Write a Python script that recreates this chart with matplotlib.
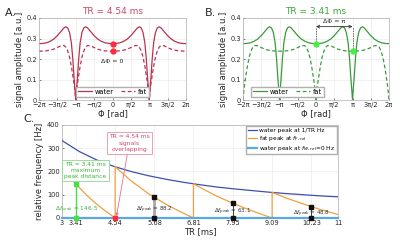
import numpy as np
import matplotlib
matplotlib.use("Agg")
import matplotlib.pyplot as plt

# ---------------- data ----------------
# bSSFP profile samples: distance from the dip (in units of pi) and amplitudes
dip_dist = [0.0, 0.02, 0.05, 0.08, 0.12, 0.17, 0.22, 0.27, 0.32, 0.40, 0.50, 0.60, 0.70, 0.80, 0.90, 1.0]
water_amp = [0.0, 0.05, 0.12, 0.20, 0.28, 0.33, 0.352, 0.357, 0.352, 0.335, 0.314, 0.297, 0.286, 0.279, 0.276, 0.275]
fat_amp = [0.0, 0.04, 0.085, 0.12, 0.165, 0.21, 0.24, 0.258, 0.266, 0.265, 0.256, 0.248, 0.243, 0.240, 0.239, 0.238]

phi_ticks = [-2, -1.5, -1, -0.5, 0, 0.5, 1, 1.5, 2]
phi_ticklabels = ['\u22122\u03c0', '\u22123\u03c0/2', '\u2212\u03c0', '\u2212\u03c0/2', '0',
                  '\u03c0/2', '\u03c0', '3\u03c0/2', '2\u03c0']

# panel C
tr_water = [3.0, 3.5, 4.0, 4.5, 5.0, 5.5, 6.0, 6.5, 7.0, 7.5, 8.0, 8.5, 9.0, 9.5, 10.0, 10.5, 11.0]
f_water = [333, 286, 250, 222, 200, 182, 167, 154, 143, 133, 125, 118, 111, 105, 100, 95, 91]

tr_fat = [3.0, 3.25, 3.5, 3.75, 4.0, 4.25, 4.54,
          4.54, 5.0, 5.5, 6.0, 6.5, 6.81,
          6.81, 7.25, 7.5, 8.0, 8.5, 9.09,
          9.09, 9.5, 10.0, 10.5, 11.0]
f_fat = [227, 175, 131, 93, 60, 31, 0,
         221, 160, 105, 60, 22, 0,
         147, 112, 93, 60, 31, 0,
         110, 86, 60, 36, 15]

tr_ticks = [3, 3.41, 4.54, 5.68, 6.81, 7.95, 9.09, 10.23, 11]
tr_ticklabels = ['3', '3.41', '4.54', '5.68', '6.81', '7.95', '9.09', '10.23', '11']
peak_tr = [3.41, 5.68, 7.95, 10.23]
peak_df = [146.5, 88.2, 63.1, 48.8]

# ---------------- helpers ----------------
def tile(d, v, shift):
    d = np.asarray(d); v = np.asarray(v)
    hx = np.concatenate([-1 + d, (1 - d)[::-1]])
    hv = np.concatenate([v, v[::-1]])
    xs, vs = [], []
    for k in (-4, -2, 0, 2, 4):
        xs.append(hx + k + shift); vs.append(hv)
    x = np.concatenate(xs); y = np.concatenate(vs)
    order = np.argsort(x, kind='stable')
    x = x[order]; y = y[order]
    m = (x >= -2.0001) & (x <= 2.0001)
    return x[m] * np.pi, y[m]

plt.rcParams['font.family'] = ['DejaVu Sans']
plt.rcParams['font.size'] = 5
plt.rcParams['axes.linewidth'] = 0.5
plt.rcParams['xtick.major.width'] = 0.4
plt.rcParams['ytick.major.width'] = 0.4
plt.rcParams['xtick.major.size'] = 1.5
plt.rcParams['ytick.major.size'] = 1.5
plt.rcParams['xtick.direction'] = 'in'
plt.rcParams['ytick.direction'] = 'in'
plt.rcParams['xtick.major.pad'] = 1.5
plt.rcParams['ytick.major.pad'] = 1.5

fig = plt.figure(figsize=(4, 2.4), dpi=100)
tcol = '#262626'

def style(ax):
    ax.grid(True, color='#e6e6e6', lw=0.4)
    ax.set_axisbelow(True)
    for s in ax.spines.values():
        s.set_color('#b0b0b0')
    ax.tick_params(colors=tcol, labelsize=4.8)

def phi_axis(ax):
    ax.set_xlim(-2 * np.pi, 2 * np.pi)
    ax.set_ylim(0, 0.4)
    ax.set_xticks([t * np.pi for t in phi_ticks])
    ax.set_xticklabels(phi_ticklabels)
    ax.set_yticks([0, 0.1, 0.2, 0.3, 0.4])
    ax.set_yticklabels(['0', '0.1', '0.2', '0.3', '0.4'])
    ax.set_xlabel('\u03a6 [rad]', fontsize=6, labelpad=1, color=tcol)
    ax.set_ylabel('signal amplitude [a.u.]', fontsize=6, labelpad=2, color=tcol)
    style(ax)

# ---------- A ----------
axA = fig.add_axes([0.0975, 0.583, 0.3675, 0.342])
cA = '#b8334f'
xw, yw = tile(dip_dist, water_amp, 0)
xf, yf = tile(dip_dist, fat_amp, 0)
axA.plot(xw, yw, color=cA, lw=0.9, label='water')
axA.plot(xf, yf, color=cA, lw=0.9, ls=(0, (3, 2)), label='fat')
axA.plot([0, 0], [water_amp[-1], fat_amp[-1]], ls='none', marker='o', ms=3.5,
         color='#ff2a3a', zorder=5)
axA.text(0, 0.187, '\u0394\u03a6 = 0', ha='center', va='center', fontsize=4.5, color=tcol)
phi_axis(axA)
axA.set_title('TR = 4.54 ms', color='#c84a64', fontsize=6.5, pad=3)
axA.legend(loc='lower center', ncol=2, fontsize=4.8, frameon=True, handlelength=2.2,
           borderpad=0.3, columnspacing=1.0, handletextpad=0.4, framealpha=1,
           edgecolor='#b0b0b0', fancybox=False, bbox_to_anchor=(0.5, 0.0))

# ---------- B ----------
axB = fig.add_axes([0.6075, 0.583, 0.365, 0.342])
cB = '#3c9a3c'
xw, yw = tile(dip_dist, water_amp, 0)
xf, yf = tile(dip_dist, fat_amp, 1)
axB.plot(xw, yw, color=cB, lw=0.9, label='water')
axB.plot(xf, yf, color=cB, lw=0.9, ls=(0, (3, 2)), label='fat')
axB.plot([0, np.pi], [water_amp[-1], fat_amp[-1]], ls='none', marker='o', ms=3.5,
         color='#44ee44', zorder=5)
axB.plot([0, 0], [water_amp[-1], 0.358], color='#333333', lw=0.5, ls=(0, (2, 1.5)))
axB.plot([np.pi, np.pi], [fat_amp[-1], 0.358], color='#333333', lw=0.5, ls=(0, (2, 1.5)))
axB.annotate('', xy=(0, 0.358), xytext=(np.pi, 0.358),
             arrowprops=dict(arrowstyle='<->', color='#333333', lw=0.6,
                             shrinkA=0, shrinkB=0, mutation_scale=5))
axB.text(np.pi / 2, 0.372, '\u0394\u03a6 = \u03c0', ha='center', va='bottom', fontsize=4.5, color=tcol)
phi_axis(axB)
axB.set_title('TR = 3.41 ms', color='#3aa63a', fontsize=6.5, pad=3)
axB.legend(loc='lower left', ncol=2, fontsize=4.8, frameon=True, handlelength=2.2,
           borderpad=0.3, columnspacing=1.0, handletextpad=0.4, framealpha=1,
           edgecolor='#b0b0b0', fancybox=False, bbox_to_anchor=(0.03, 0.0))

# ---------- C ----------
axC = fig.add_axes([0.155, 0.0917, 0.69, 0.3875])
axC.plot(tr_water, f_water, color='#3f4fae', lw=0.9, label='water peak at 1/TR Hz', zorder=3)
axC.plot(tr_fat, f_fat, color='#f0a040', lw=0.9, label='fat peak at $f_{F,rel}$', zorder=3)
axC.plot([tr_ticks[0], tr_ticks[-1]], [0, 0], color='#5aa8dc', lw=1.6,
         label='water peak at $f_{W,rel}$=0 Hz', zorder=4, clip_on=False)

# peak distance markers
axC.plot([peak_tr[0]] * 2, [0, peak_df[0]], color='#44e044', lw=1.0, zorder=5)
axC.plot([peak_tr[0]] * 2, [0, peak_df[0]], ls='none', marker='s', ms=2.5, color='#44e044', zorder=6, clip_on=False)
axC.plot([peak_tr[1]] * 2, [0, peak_df[1]], color='#a8a8a8', lw=2.0, zorder=5)
for t, v in zip(peak_tr[1:], peak_df[1:]):
    if t != peak_tr[1]:
        axC.plot([t, t], [0, v], color='#222222', lw=0.6, zorder=5)
    axC.plot([t, t], [0, v], ls='none', marker='s', ms=2.3, color='#111111', zorder=6, clip_on=False)
axC.plot([4.54], [0], ls='none', marker='s', ms=2.8, color='#ff2a3a', zorder=7, clip_on=False)

axC.text(peak_tr[0], 35, '$\\Delta f_{peak}$ = ' + f'{peak_df[0]}', ha='center', va='center',
         fontsize=4.2, color='#3cb43c', zorder=8)
for t, v in zip(peak_tr[1:], peak_df[1:]):
    axC.text(t, v * 0.4, '$\\Delta f_{peak}$ = ' + f'{v}', ha='center', va='center',
             fontsize=4.0, color='#333333', zorder=8)

axC.text(3.68, 205, 'TR = 3.41 ms\nmaximum\npeak distance', ha='center', va='center',
         fontsize=4.3, color='#3cb43c', linespacing=1.3,
         bbox=dict(boxstyle='square,pad=0.35', fc='white', ec='#8ed88e', lw=0.6), zorder=9)
axC.annotate('TR = 4.54 ms\nsignals\noverlapping', xy=(4.58, 8), xytext=(4.95, 322),
             ha='center', va='center', fontsize=4.3, color='#d0486a', linespacing=1.3,
             bbox=dict(boxstyle='square,pad=0.35', fc='white', ec='#e890a8', lw=0.6),
             arrowprops=dict(arrowstyle='-|>', color='#e0708c', lw=0.6, mutation_scale=4,
                             shrinkA=0, shrinkB=0), zorder=9)

axC.set_xlim(3, 11)
axC.set_ylim(0, 400)
axC.set_xticks(tr_ticks)
axC.set_xticklabels(tr_ticklabels)
axC.set_yticks([0, 100, 200, 300, 400])
axC.set_xlabel('TR [ms]', fontsize=6, labelpad=1, color=tcol)
axC.set_ylabel('relative frequency [Hz]', fontsize=6, labelpad=2, color=tcol)
style(axC)
axC.legend(loc='upper right', fontsize=4.2, frameon=True, handlelength=1.6,
           borderpad=0.3, labelspacing=0.25, handletextpad=0.3, framealpha=1,
           edgecolor='#b0b0b0', fancybox=False, borderaxespad=0.2)

fig.text(0.012, 0.935, 'A.', fontsize=8, color=tcol)
fig.text(0.512, 0.935, 'B.', fontsize=8, color=tcol)
fig.text(0.058, 0.493, 'C.', fontsize=8, color=tcol)

fig.savefig('out.png', dpi=100)
